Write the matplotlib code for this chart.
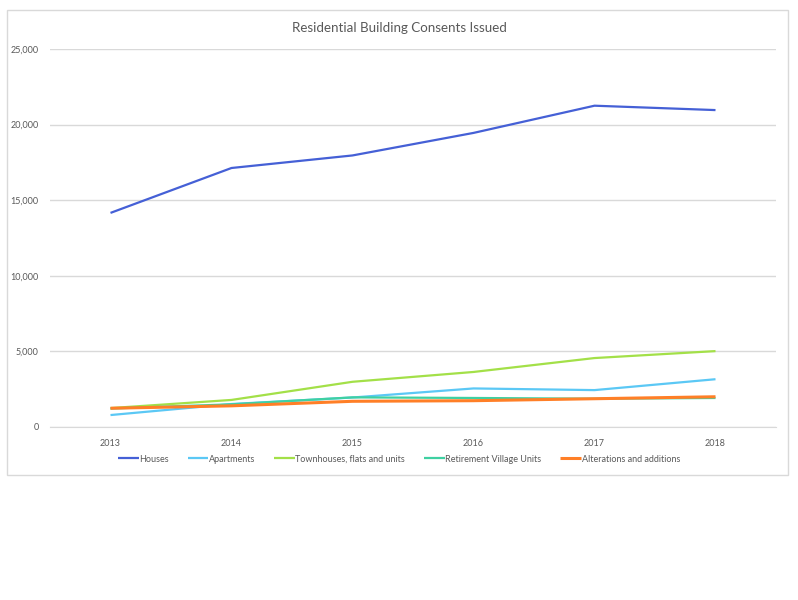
import matplotlib
matplotlib.use("Agg")
import matplotlib.pyplot as plt
from matplotlib.patches import Rectangle
from matplotlib.ticker import FuncFormatter

years = ["2013", "2014", "2015", "2016", "2017", "2018"]
houses = [14160, 17130, 17960, 19450, 21250, 20960]
apartments = [790, 1520, 1950, 2550, 2440, 3160]
townhouses = [1250, 1790, 2990, 3640, 4560, 5020]
retirement = [1220, 1500, 1960, 1920, 1870, 1920]
alterations = [1240, 1400, 1700, 1740, 1870, 2000]

series = [
    ("Houses", houses, "#4560D6", 1.6),
    ("Apartments", apartments, "#5BC8F5", 1.6),
    ("Townhouses, flats and units", townhouses, "#A3E048", 1.6),
    ("Retirement Village Units", retirement, "#3FD0A2", 1.6),
    ("Alterations and additions", alterations, "#FF7F27", 2.2),
]

plt.rcParams['font.family'] = ['Lato', 'DejaVu Sans']

fig = plt.figure(figsize=(7.98, 6.0), dpi=100)
fig.patch.set_facecolor("white")

# chart area border
fig.patches.append(Rectangle((7/798, 1-475/600), 781/798, 465/600,
                             transform=fig.transFigure, fill=False,
                             edgecolor="#D9D9D9", linewidth=1.0))

ax = fig.add_axes([50/798, 1-427/600, 726/798, 378/600])
x = list(range(len(years)))
for name, vals, color, lw in series:
    ax.plot(x, vals, color=color, linewidth=lw, label=name, solid_capstyle="butt")

ax.set_xlim(-0.5, len(years) - 0.5)
ax.set_ylim(0, 25000)
ax.set_yticks([0, 5000, 10000, 15000, 20000, 25000])
ax.yaxis.set_major_formatter(FuncFormatter(lambda v, p: f"{int(v):,}"))
ax.set_xticks(x)
ax.set_xticklabels(years)
ax.grid(axis="y", color="#D9D9D9", linewidth=1.0)
ax.set_axisbelow(True)
for s in ["top", "right", "left"]:
    ax.spines[s].set_visible(False)
ax.spines["bottom"].set_color("#D9D9D9")
ax.tick_params(axis="both", length=0, labelsize=6.5, labelcolor="#595959")
ax.tick_params(axis="x", pad=9)
ax.tick_params(axis="y", pad=8)

fig.text(0.5, 1-28/600, "Residential Building Consents Issued", ha="center",
         va="center", fontsize=9.6, color="#595959")

fig.legend(loc="center", bbox_to_anchor=(399/798, 1-459/600), ncol=5,
           frameon=False, fontsize=6.5, handlelength=2.3, handletextpad=0.05,
           columnspacing=2.1, labelcolor="#595959")

fig.savefig("out.png", dpi=100)
